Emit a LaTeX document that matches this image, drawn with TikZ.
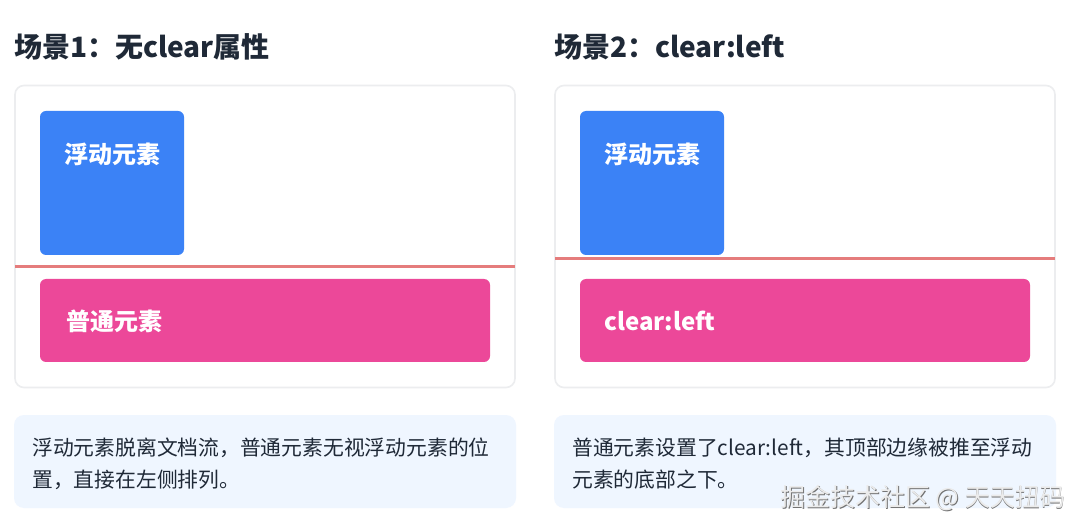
\documentclass[tikz,border=0pt]{standalone}
\usepackage{fontspec}
\setmainfont{Noto Sans CJK SC}
\usetikzlibrary{calc}
\definecolor{titlec}{HTML}{1F2937}
\definecolor{bluef}{HTML}{3B82F6}
\definecolor{pinkf}{HTML}{EC4899}
\definecolor{redl}{HTML}{E57C7C}
\definecolor{notebg}{HTML}{EFF6FF}
\definecolor{panelb}{HTML}{ECEDEF}
\definecolor{notetxt}{HTML}{1F2937}
\begin{document}
\begin{tikzpicture}[x=1pt,y=-1pt,
  titletext/.style={anchor=west,inner sep=0pt,text=titlec,font=\fontsize{28}{34}\selectfont\bfseries},
  panel/.style={draw=panelb,line width=1.6pt,fill=white,rounded corners=9pt,minimum width=500pt,minimum height=302pt,inner sep=0pt},
  floatbox/.style={fill=bluef,rounded corners=6pt,minimum width=144pt,minimum height=144pt,inner sep=0pt},
  normbox/.style={fill=pinkf,rounded corners=6pt,minimum width=450pt,minimum height=83pt,inner sep=0pt},
  boxtext/.style={inner sep=0pt,text=white,font=\fontsize{24}{28}\selectfont\bfseries},
  clearline/.style={draw=redl,line width=3pt,shorten <=1pt,shorten >=1pt},
  notebox/.style={fill=notebg,rounded corners=10pt,minimum width=502pt,minimum height=93pt,inner sep=0pt},
  notetext/.style={anchor=west,inner sep=0pt,text=notetxt,font=\fontsize{20.8}{30}\selectfont},
  wmark/.style={anchor=west,inner sep=0pt,font=\fontsize{25}{30}\selectfont}
]
\useasboundingbox (0,0) rectangle (1082,529);
\fill[white] (0,0) rectangle (1082,529);

% ---------- Scene 1 ----------
\node[titletext] (t1) at (14,47) {场景1：无clear属性};
\node[panel] (p1) at (265,236.5) {};
\node[floatbox] (f1) at (112,183) {};
\node[boxtext] (f1t) at (112,154) {浮动元素};
\draw[clearline] (p1.west |- 0,267) -- (p1.east |- 0,267);
\node[normbox] (n1) at (265,320.5) {};
\node[boxtext,anchor=west] (n1t) at (66,321) {普通元素};
\node[notebox] (nb1) at (265,461.5) {};
\node[notetext] (nb1a) at (32,448) {浮动元素脱离文档流，普通元素无视浮动元素的位};
\node[notetext] (nb1b) at (32,480) {置，直接在左侧排列。};

% ---------- Scene 2 ----------
\node[titletext] (t2) at (554,47) {场景2：clear:left};
\node[panel] (p2) at (805,236.5) {};
\node[floatbox] (f2) at (652,183) {};
\node[boxtext] (f2t) at (652,154) {浮动元素};
\draw[clearline] (p2.west |- 0,259) -- (p2.east |- 0,259);
\node[normbox] (n2) at (805,320.5) {};
\node[boxtext,anchor=west] (n2t) at (604,321) {clear:left};
\node[notebox] (nb2) at (805,461.5) {};
\node[notetext] (nb2a) at (572,448) {普通元素设置了clear:left，其顶部边缘被推至浮动};
\node[notetext] (nb2b) at (572,480) {元素的底部之下。};

% ---------- watermark ----------
\node[wmark,text=black!55] (wm0) at (780.8,498.8) {掘金技术社区 @ 天天扭码};
\node[wmark,text=black!8] (wm) at (780,498) {掘金技术社区 @ 天天扭码};
\end{tikzpicture}
\end{document}
